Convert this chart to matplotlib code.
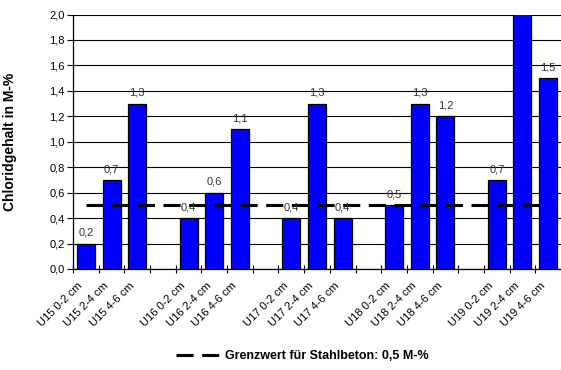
import matplotlib
matplotlib.use("Agg")
import matplotlib.pyplot as plt
import matplotlib.transforms as mtransforms
import numpy as np

plt.rcParams["font.family"] = ["Liberation Sans", "DejaVu Sans"]

# Sample positions (empty strings are spacer slots between sites)
categories = ["U15 0-2 cm", "U15 2-4 cm", "U15 4-6 cm", "",
              "U16 0-2 cm", "U16 2-4 cm", "U16 4-6 cm", "",
              "U17 0-2 cm", "U17 2-4 cm", "U17 4-6 cm", "",
              "U18 0-2 cm", "U18 2-4 cm", "U18 4-6 cm", "",
              "U19 0-2 cm", "U19 2-4 cm", "U19 4-6 cm"]
chloride = [0.2, 0.7, 1.3, None,
            0.4, 0.6, 1.1, None,
            0.4, 1.3, 0.4, None,
            0.5, 1.3, 1.2, None,
            0.7, 2.1, 1.5]
limit_value = 0.5
limit_label = "Grenzwert für Stahlbeton: 0,5 M-%"
y_ticks = [0.0, 0.2, 0.4, 0.6, 0.8, 1.0, 1.2, 1.4, 1.6, 1.8, 2.0]
y_max = 2.0

fig = plt.figure(figsize=(5.61, 3.70), dpi=100)
ax = fig.add_axes([73 / 561, 1 - 269 / 370, 488 / 561, (269 - 14.5) / 370])

x = np.arange(len(categories))
for xi, v in zip(x, chloride):
    if v is None:
        continue
    ax.bar(xi, v, width=0.7, color="#0000FF", edgecolor="black", linewidth=0.9, zorder=3)
    if v <= y_max:
        ax.text(xi, v + 0.045, f"{v:.1f}".replace(".", ","), ha="center", va="bottom",
                fontsize=8, color="#333333", zorder=5)

# limit line across the sample slots
line, = ax.plot([x[0], x[-1]], [limit_value, limit_value], color="black", lw=2.2,
                dashes=(5.6, 2.8), zorder=4)

ax.set_xlim(-0.5, len(categories) - 0.5)
ax.set_ylim(0, y_max)
ax.set_yticks(y_ticks)
ax.set_yticklabels([f"{t:.1f}".replace(".", ",") for t in y_ticks], fontsize=8)
ax.yaxis.grid(True, color="black", lw=0.8, zorder=0)
ax.set_axisbelow(True)

# category boundaries carry the tick marks, labels sit at the centres
ax.set_xticks(np.arange(-0.5, len(categories)), minor=False)
ax.set_xticklabels([])
ax.tick_params(axis="x", which="major", direction="inout", length=6, width=0.8)
ax.set_xticks(x, minor=True)
ax.set_xticklabels(categories, minor=True, rotation=45, ha="right", va="center",
                   rotation_mode="anchor", fontsize=8)
ax.tick_params(axis="x", which="minor", length=0, pad=11)
shift = mtransforms.ScaledTranslation(-5 / 100, 0, fig.dpi_scale_trans)
for lbl in ax.get_xticklabels(minor=True):
    lbl.set_transform(lbl.get_transform() + shift)
ax.tick_params(axis="y", direction="out", length=4, width=0.8, pad=2)

for s in ["top", "right"]:
    ax.spines[s].set_visible(False)
ax.spines["left"].set_linewidth(0.9)
ax.spines["bottom"].set_linewidth(0.9)

ax.set_ylabel("Chloridgehalt in M-%", fontsize=10, fontweight="bold")
ax.yaxis.set_label_coords(17 / 561, 1 - 141.5 / 370, transform=fig.transFigure)

fig.legend([line], [limit_label], loc="center", bbox_to_anchor=(302 / 561, 1 - 356 / 370),
           frameon=False, prop={"size": 9, "weight": "bold"}, handlelength=3.6,
           handletextpad=0.3)

fig.savefig("out.png", dpi=100)
